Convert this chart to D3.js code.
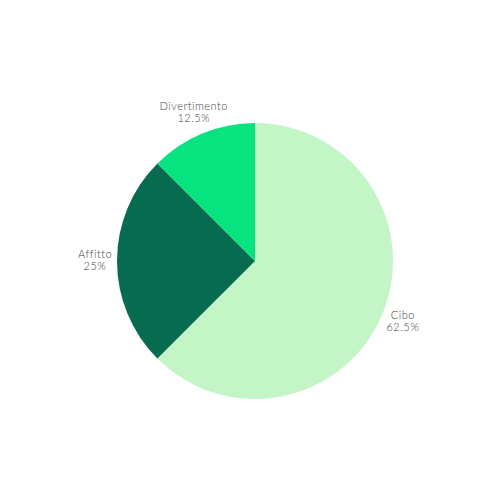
<!DOCTYPE html>
<html>
<head>
<meta charset="utf-8">
<script src="https://cdn.jsdelivr.net/npm/d3@7"></script>
<style>
  body { margin: 0; background: #fff; }
  .label { font-family: Lato, sans-serif; font-weight: 300; font-size: 11px; letter-spacing: 0.5px; fill: #444; }
</style>
</head>
<body>
<div id="chart"></div>
<script>
const categories = ['Cibo', 'Affitto', 'Divertimento']
const values = [62.5, 25, 12.5]
const colors = ['#c3f5c7', '#076b50', '#06e37f']

const width = 500, height = 500
const cx = 255, cy = 261
const radius = 138, labelRadius = 160

const svg = d3.select('#chart')
    .append('svg')
    .attr('width', width)
    .attr('height', height)

const canvas = svg.append('g')
    .attr('transform', 'translate(' + cx + ',' + cy + ')')

const data = categories.map((c, i) => ({ name: c, value: values[i], color: colors[i] }))

const pie = d3.pie().value(d => d.value).sort(null)
const arc = d3.arc().innerRadius(0).outerRadius(radius)
const labelArc = d3.arc().innerRadius(labelRadius).outerRadius(labelRadius)

const arcs = pie(data)

canvas.selectAll('path.slice')
    .data(arcs)
    .enter().append('path')
    .attr('class', 'slice')
    .attr('d', arc)
    .attr('fill', d => d.data.color)

const labels = canvas.selectAll('text.label')
    .data(arcs)
    .enter().append('text')
    .attr('class', 'label')
    .attr('text-anchor', 'middle')
    .attr('transform', d => 'translate(' + labelArc.centroid(d) + ')')

labels.append('tspan')
    .attr('x', 0)
    .attr('dy', '-0.3em')
    .text(d => d.data.name)
labels.append('tspan')
    .attr('x', 0)
    .attr('dy', '1.1em')
    .text(d => d.data.value + '%')
</script>
</body>
</html>
